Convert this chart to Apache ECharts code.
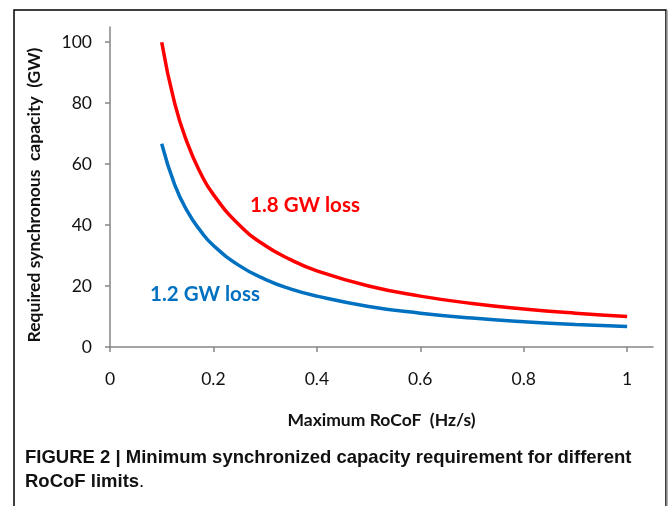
<!DOCTYPE html>
<html><head><meta charset="utf-8">
<script src="https://cdn.jsdelivr.net/npm/echarts@6/dist/echarts.min.js"></script>
<style>html,body{margin:0;padding:0;background:#fff}#c{width:668px;height:506px}</style>
</head><body><div id="c"></div>
<script>
const rocof = [0.1, 0.125, 0.15, 0.175, 0.2, 0.25, 0.3, 0.35, 0.4, 0.5, 0.6, 0.7, 0.8, 0.9, 1.0];
const loss18 = [100, 80, 66.7, 57.1, 50, 40, 33.3, 28.6, 25, 20, 16.7, 14.3, 12.5, 11.1, 10];
const loss12 = [66.7, 53.3, 44.4, 38.1, 33.3, 26.7, 22.2, 19, 16.7, 13.3, 11.1, 9.5, 8.3, 7.4, 6.7];
const xTicks = [0, 0.2, 0.4, 0.6, 0.8, 1];
const yTicks = [0, 20, 40, 60, 80, 100];
const seriesNames = ['1.8 GW loss', '1.2 GW loss'];
const xTitle = 'Maximum RoCoF  (Hz/s)';
const yTitle = 'Required synchronous  capacity  (GW)';
const captionBold = 'FIGURE 2 | Minimum synchronized capacity requirement for different';
const captionLine2 = 'RoCoF limits';

const pair = (xs, ys) => xs.map((x, i) => [x, ys[i]]);
const font = 'Lato, "Open Sans", sans-serif';
const capFont = '"Liberation Sans Narrow", "Liberation Sans", Arial, sans-serif';
const axisColor = '#868686';

const chart = echarts.init(document.getElementById('c'), null, {renderer: 'canvas'});
chart.setOption({
  animation: false,
  grid: {left: 110, right: 15, top: 27, bottom: 159, containLabel: false},
  xAxis: {
    type: 'value', min: 0, max: 1.05,
    axisLine: {show: true, lineStyle: {color: axisColor, width: 1.5}},
    axisTick: {show: true, length: 5, customValues: xTicks, lineStyle: {color: axisColor, width: 1.5}},
    axisLabel: {customValues: xTicks, margin: 23, fontSize: 17.5, color: '#111', fontFamily: font},
    splitLine: {show: false},
    name: xTitle, nameLocation: 'middle', nameGap: 64,
    nameTextStyle: {fontSize: 17.5, fontWeight: 'bold', color: '#111', fontFamily: font}
  },
  yAxis: {
    type: 'value', min: 0, max: 105,
    axisLine: {show: true, lineStyle: {color: axisColor, width: 1.5}},
    axisTick: {show: true, length: 5, customValues: yTicks, lineStyle: {color: axisColor, width: 1.5}},
    axisLabel: {customValues: yTicks, margin: 18, fontSize: 17.5, color: '#111', fontFamily: font},
    splitLine: {show: false}
  },
  series: [
    {name: seriesNames[0], type: 'line', smooth: true, showSymbol: false,
     data: pair(rocof, loss18), lineStyle: {color: '#FF0000', width: 3.5}},
    {name: seriesNames[1], type: 'line', smooth: true, showSymbol: false,
     data: pair(rocof, loss12), lineStyle: {color: '#0070C0', width: 3.5}}
  ],
  graphic: [
    {type: 'rect', shape: {x: 14, y: 10, width: 652, height: 520},
     style: {fill: 'none', stroke: '#000', lineWidth: 1.5}, silent: true},
    {type: 'line', shape: {x1: 667, y1: 10, x2: 667, y2: 506},
     style: {stroke: '#999', lineWidth: 1.5}, silent: true},
    {type: 'text', x: 34, y: 195, rotation: Math.PI / 2,
     style: {text: yTitle, fontSize: 17.5, fontWeight: 'bold', fill: '#111', fontFamily: font,
             align: 'center', verticalAlign: 'middle'}},
    {type: 'text', x: 305, y: 205,
     style: {text: seriesNames[0], fontSize: 20.5, fontWeight: 'bold', fill: '#FF0000', fontFamily: font,
             align: 'center', verticalAlign: 'middle'}},
    {type: 'text', x: 205, y: 294,
     style: {text: seriesNames[1], fontSize: 20.5, fontWeight: 'bold', fill: '#0070C0', fontFamily: font,
             align: 'center', verticalAlign: 'middle'}},
    {type: 'text', x: 25, y: 458,
     style: {text: captionBold, fontSize: 18.5, fontWeight: 'bold', fill: '#111',
             fontFamily: capFont, verticalAlign: 'middle'}},
    {type: 'text', x: 25, y: 482,
     style: {rich: {b: {fontSize: 18.5, fontWeight: 'bold', fill: '#111', fontFamily: capFont},
                    n: {fontSize: 18.5, fill: '#111', fontFamily: capFont}},
             text: '{b|' + captionLine2 + '}{n|.}',
             fontFamily: capFont, verticalAlign: 'middle'}}
  ]
});
</script></body></html>
